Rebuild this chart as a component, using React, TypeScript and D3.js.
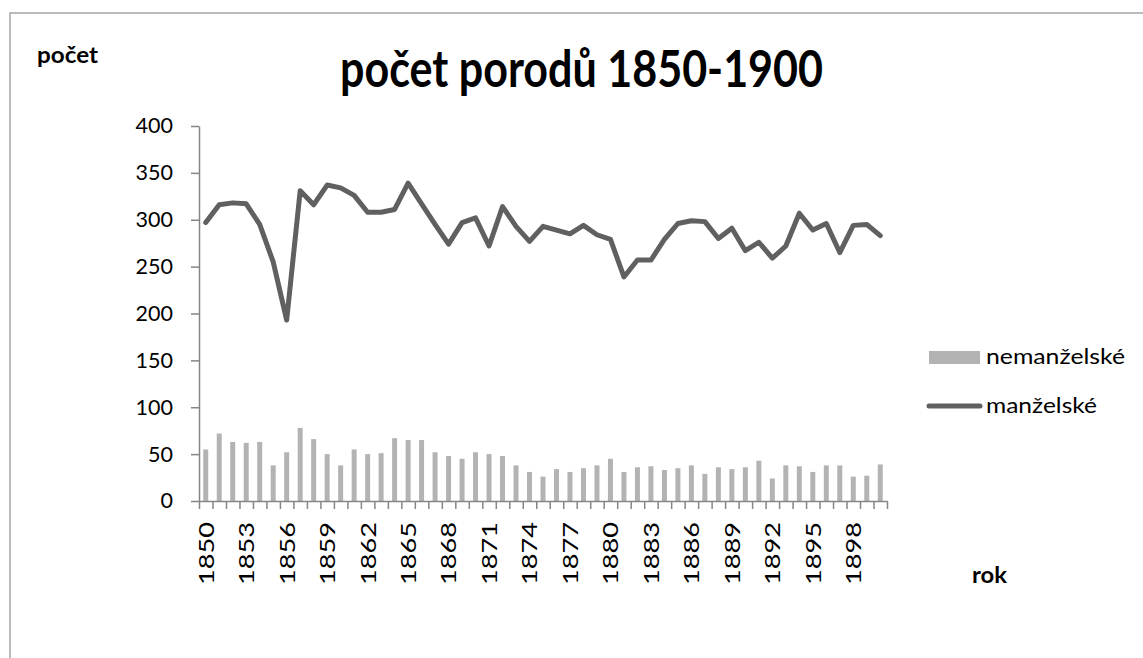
import React, { useRef, useEffect } from "react";
import * as d3 from "d3";

const years = [
  1850, 1851, 1852, 1853, 1854, 1855, 1856, 1857, 1858, 1859,
  1860, 1861, 1862, 1863, 1864, 1865, 1866, 1867, 1868, 1869,
  1870, 1871, 1872, 1873, 1874, 1875, 1876, 1877, 1878, 1879,
  1880, 1881, 1882, 1883, 1884, 1885, 1886, 1887, 1888, 1889,
  1890, 1891, 1892, 1893, 1894, 1895, 1896, 1897, 1898, 1899, 1900,
];

// nemanželské (bars)
const nemanzelske = [
  55, 72, 63, 62, 63, 38, 52, 78, 66, 50,
  38, 55, 50, 51, 67, 65, 65, 52, 48, 45,
  52, 50, 48, 38, 31, 26, 34, 31, 35, 38,
  45, 31, 36, 37, 33, 35, 38, 29, 36, 34,
  36, 43, 24, 38, 37, 31, 38, 38, 26, 27, 39,
];

// manželské (line)
const manzelske = [
  297, 316, 318, 317, 295, 255, 193, 331, 316, 337,
  334, 326, 308, 308, 311, 339, 317, 295, 274, 297,
  302, 272, 314, 293, 277, 293, 289, 285, 294, 284,
  279, 239, 257, 257, 279, 296, 299, 298, 280, 291,
  267, 276, 259, 272, 307, 289, 296, 265, 294, 295, 283,
];

const yTicks = [0, 50, 100, 150, 200, 250, 300, 350, 400];
const xLabelYears = [
  1850, 1853, 1856, 1859, 1862, 1865, 1868, 1871, 1874,
  1877, 1880, 1883, 1886, 1889, 1892, 1895, 1898,
];

const FONT = "Lato, 'Open Sans', sans-serif";

export default function App() {
  const ref = useRef<SVGSVGElement>(null);

  const width = 1143;
  const height = 658;
  const left = 199;
  const right = 887;
  const top = 126;
  const bottom = 501;

  useEffect(() => {
    const svg = d3.select(ref.current);
    svg.selectAll("*").remove();

    const x = d3.scaleBand<number>().domain(years).range([left, right]).padding(0);
    const xEdges = d3.scaleLinear().domain([0, years.length]).range([left, right]);
    const y = d3.scaleLinear().domain([0, 400]).range([bottom, top]);

    // chart area border
    svg
      .append("rect")
      .attr("x", 10)
      .attr("y", 13)
      .attr("width", 1200)
      .attr("height", 700)
      .attr("fill", "white")
      .attr("stroke", "#a5a5a5")
      .attr("stroke-width", 1.5);

    // bars
    const bw = x.bandwidth() * 0.37;
    svg
      .append("g")
      .selectAll("rect")
      .data(years)
      .join("rect")
      .attr("x", (d) => x(d)! + x.bandwidth() / 2 - bw / 2)
      .attr("y", (d, i) => y(nemanzelske[i]))
      .attr("width", bw)
      .attr("height", (d, i) => bottom - y(nemanzelske[i]))
      .attr("fill", "#b3b3b3");

    // y axis
    const yAxis = svg
      .append("g")
      .attr("transform", `translate(${left},0)`)
      .call(d3.axisLeft(y).tickValues(yTicks).tickSize(8).tickSizeOuter(0).tickPadding(18));
    yAxis.select(".domain").attr("stroke", "#868686").attr("stroke-width", 1.5);
    yAxis.selectAll(".tick line").attr("stroke", "#868686").attr("stroke-width", 1.5);
    yAxis
      .selectAll(".tick text")
      .attr("font-family", FONT)
      .attr("font-size", 21.5)
      .attr("fill", "#000");

    // x axis: tick marks at category edges
    const xAxis = svg
      .append("g")
      .attr("transform", `translate(0,${bottom})`)
      .call(
        d3
          .axisBottom(xEdges)
          .tickValues(d3.range(0, years.length + 1))
          .tickSize(8)
          .tickSizeOuter(0)
          .tickFormat(() => "")
      );
    xAxis.select(".domain").attr("stroke", "#868686").attr("stroke-width", 1.5);
    xAxis.selectAll(".tick line").attr("stroke", "#868686").attr("stroke-width", 1.5);

    // x labels (rotated)
    const xLab = svg
      .append("g")
      .attr("transform", `translate(0,${bottom})`)
      .call(d3.axisBottom(x).tickValues(xLabelYears).tickSize(0).tickFormat((d) => String(d)));
    xLab.select(".domain").remove();
    xLab
      .selectAll(".tick text")
      .attr("font-family", FONT)
      .attr("font-size", 22)
      .attr("fill", "#000")
      .attr("transform", "rotate(-90)")
      .attr("text-anchor", "end")
      .attr("x", -21)
      .attr("y", 0)
      .attr("dy", "0.36em")
      .attr("textLength", 63)
      .attr("lengthAdjust", "spacingAndGlyphs");

    // line
    const line = d3
      .line<number>()
      .x((d, i) => x(years[i])! + x.bandwidth() / 2)
      .y((d) => y(d));
    svg
      .append("path")
      .datum(manzelske)
      .attr("d", line)
      .attr("fill", "none")
      .attr("stroke", "#606060")
      .attr("stroke-width", 5)
      .attr("stroke-linejoin", "round")
      .attr("stroke-linecap", "round");

    // title
    svg
      .append("text")
      .attr("x", 340)
      .attr("y", 87)
      .attr("font-family", FONT)
      .attr("font-weight", "bold")
      .attr("font-size", 52)
      .attr("textLength", 483)
      .attr("lengthAdjust", "spacingAndGlyphs")
      .text("počet porodů 1850-1900");

    // axis titles
    svg
      .append("text")
      .attr("x", 37)
      .attr("y", 63)
      .attr("font-family", FONT)
      .attr("font-weight", "bold")
      .attr("font-size", 22)
      .attr("textLength", 61)
      .attr("lengthAdjust", "spacingAndGlyphs")
      .text("počet");
    svg
      .append("text")
      .attr("x", 972)
      .attr("y", 583)
      .attr("font-family", FONT)
      .attr("font-weight", "bold")
      .attr("font-size", 22)
      .attr("textLength", 35)
      .attr("lengthAdjust", "spacingAndGlyphs")
      .text("rok");

    // legend
    const lg = svg.append("g");
    lg.append("rect")
      .attr("x", 929)
      .attr("y", 351)
      .attr("width", 51)
      .attr("height", 13)
      .attr("fill", "#b3b3b3");
    lg.append("text")
      .attr("x", 986)
      .attr("y", 364)
      .attr("font-family", FONT)
      .attr("font-size", 22)
      .attr("textLength", 139)
      .attr("lengthAdjust", "spacingAndGlyphs")
      .text("nemanželské");
    lg.append("line")
      .attr("x1", 929)
      .attr("x2", 980)
      .attr("y1", 406)
      .attr("y2", 406)
      .attr("stroke", "#606060")
      .attr("stroke-width", 5)
      .attr("stroke-linecap", "round");
    lg.append("text")
      .attr("x", 986)
      .attr("y", 413)
      .attr("font-family", FONT)
      .attr("font-size", 22)
      .attr("textLength", 111)
      .attr("lengthAdjust", "spacingAndGlyphs")
      .text("manželské");
  }, []);

  return (
    <svg
      ref={ref}
      width={width}
      height={height}
      style={{ position: "absolute", left: 0, top: 0, display: "block" }}
    ></svg>
  );
}
